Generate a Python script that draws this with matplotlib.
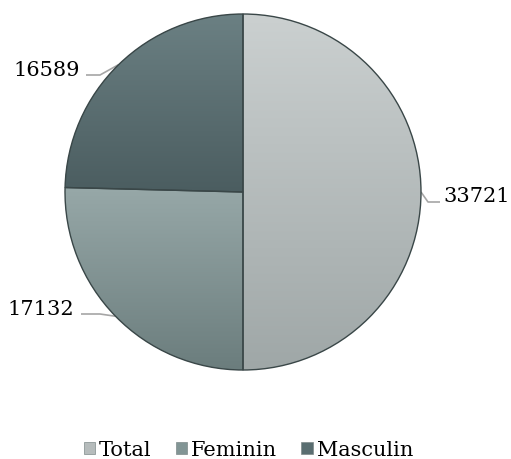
import numpy as np
import matplotlib
matplotlib.use("Agg")
import matplotlib.pyplot as plt
from matplotlib.patches import Wedge, Patch
from matplotlib.colors import LinearSegmentedColormap

# ---- data ----
categories = ["Total", "Feminin", "Masculin"]
values = [33721, 17132, 16589]
value_labels = ["33721", "17132", "16589"]

# ---- styles ----
mid_colors = ["#b6bcbc", "#829595", "#5a6e71"]
top_colors = ["#cbd0d0", "#97a8a8", "#6b8083"]
bot_colors = ["#9fa7a7", "#6b7d7d", "#4b5d60"]
edge_color = "#3a4748"
line_color = "#a6a6a6"

plt.rcParams["font.family"] = ["DejaVu Serif"]

W, H = 511, 459
fig = plt.figure(figsize=(W / 100, H / 100), dpi=100)
ax = fig.add_axes([0, 0, 1, 1])

cx, cy, r = 243, H - 192, 178
wedges, _ = ax.pie(values, startangle=90, counterclock=False,
                   colors=mid_colors, radius=r, center=(cx, cy),
                   wedgeprops=dict(linewidth=0), frame=False)
ax.set_xlim(0, W)
ax.set_ylim(0, H)
ax.set_aspect("auto")
ax.axis("off")

# gradient fill per wedge
for w, ct, cb in zip(wedges, top_colors, bot_colors):
    bb = w.get_path().get_extents(w.get_patch_transform())
    cmap = LinearSegmentedColormap.from_list("g", [cb, ct])
    grad = np.linspace(0, 1, 256).reshape(-1, 1)
    im = ax.imshow(grad, cmap=cmap, aspect="auto", origin="lower",
                   extent=(bb.x0, bb.x1, bb.y0, bb.y1), zorder=2,
                   interpolation="bicubic")
    im.set_clip_path(w)
    e = Wedge((cx, cy), r, w.theta1, w.theta2, fill=False,
              edgecolor=edge_color, linewidth=1.0, zorder=3)
    ax.add_patch(e)
ax.set_xlim(0, W)
ax.set_ylim(0, H)
ax.set_aspect("auto")

# leader lines and labels
label_cfg = {
    "Total":    dict(elbow=(428, 202), end=(440, 202), text=(443, 202), ha="left"),
    "Feminin":  dict(elbow=(100, 314), end=(81, 314), text=(74, 315), ha="right"),
    "Masculin": dict(elbow=(100, 75), end=(86, 75), text=(80, 76), ha="right"),
}
for w, cat, lab in zip(wedges, categories, value_labels):
    ang = np.deg2rad((w.theta1 + w.theta2) / 2)
    ex, ey = cx + r * np.cos(ang), cy + r * np.sin(ang)
    cfg = label_cfg[cat]
    xs = [ex, cfg["elbow"][0], cfg["end"][0]]
    ys = [ey, H - cfg["elbow"][1], H - cfg["end"][1]]
    ax.plot(xs, ys, color=line_color, lw=1.2, zorder=1, solid_capstyle="butt")
    ax.text(cfg["text"][0], H - cfg["text"][1], lab, ha=cfg["ha"],
            va="baseline", fontsize=15, color="#000000")

handles = [Patch(facecolor=c, edgecolor="#7f8a8a", linewidth=0.5) for c in mid_colors]
fig.legend(handles, categories, loc="center", bbox_to_anchor=(248.5 / W, 1 - 450 / H),
           ncol=3, frameon=False, fontsize=15, handlelength=0.55, handleheight=0.55,
           handletextpad=0.2, columnspacing=1.15, borderpad=0, borderaxespad=0)

fig.savefig("out.png", dpi=100)
